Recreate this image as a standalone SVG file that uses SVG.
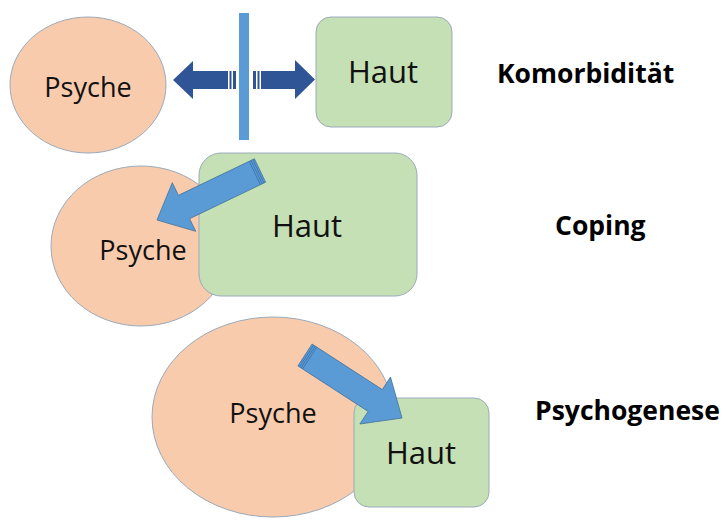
<svg xmlns="http://www.w3.org/2000/svg" width="726" height="520" viewBox="0 0 726 520">
<style>
.psy{fill:#f8cbad;stroke:#9aaabb;stroke-width:1}
.haut{fill:#c5e0b4;stroke:#9aaabb;stroke-width:1}
.t{font-family:"Open Sans","Liberation Sans",sans-serif;fill:#111;text-anchor:middle}
.lbl{font-family:"Open Sans","Liberation Sans",sans-serif;font-weight:bold;font-size:26.5px;fill:#000}
.dark{fill:#2f5597}
.light{fill:#5b9bd5;stroke:#41719c;stroke-width:0.8}
.stripe{stroke:#3f78b0;stroke-width:1}
</style>
<rect width="726" height="520" fill="#fff"/>

<g id="row1-psyche">
<ellipse class="psy" cx="88" cy="85" rx="78" ry="68"/>
<text class="t" x="88" y="97" font-size="27">Psyche</text>
</g>
<g id="row1-haut">
<rect class="haut" x="316" y="17" width="136" height="110" rx="15"/>
<text class="t" x="383" y="83" font-size="31">Haut</text>
</g>
<g id="row1-barrier">
<rect x="239" y="13" width="10" height="127" fill="#5b9bd5"/>
</g>

<g id="row2-psyche">
<ellipse class="psy" cx="141" cy="246" rx="90" ry="80"/>
<text class="t" x="143" y="260" font-size="27">Psyche</text>
</g>
<g id="row2-haut">
<rect class="haut" x="199" y="153" width="218" height="143" rx="22"/>
<text class="t" x="307" y="237" font-size="31">Haut</text>
</g>

<g id="row3-psyche">
<ellipse class="psy" cx="273" cy="417" rx="121" ry="100"/>
<text class="t" x="273" y="423" font-size="27">Psyche</text>
</g>
<g id="row3-haut">
<rect class="haut" x="354" y="398" width="135" height="109" rx="15"/>
<text class="t" x="421" y="464" font-size="31">Haut</text>
</g>

<g id="connectors">
<!-- row 1: left arrow -->
<polygon class="dark" points="173,80 193,61 193,71 228,71 228,89 193,89 193,99"/>
<rect class="dark" x="229.5" y="71" width="2" height="18"/>
<rect class="dark" x="233" y="71" width="3" height="18"/>
<!-- row 1: right arrow -->
<rect class="dark" x="253" y="71" width="3" height="18"/>
<rect class="dark" x="257.5" y="71" width="2" height="18"/>
<polygon class="dark" points="261,71 295,71 295,60 315,79.5 295,99 295,89 261,89"/>
<!-- row 2: Haut to Psyche -->
<polygon class="light" points="265.6,182.2 189.6,218.7 195.7,231.3 157,220 172.3,182.7 178.4,195.3 254.4,158.8"/>
<line class="stripe" x1="252.8" y1="159.6" x2="263.9" y2="183"/>
<line class="stripe" x1="251" y1="160.5" x2="262.2" y2="183.8"/>
<line class="stripe" x1="249.2" y1="161.4" x2="260.4" y2="184.7"/>
<!-- row 3: Psyche to Haut -->
<polygon class="light" points="312.1,344.1 382.3,389.6 390.5,377 402,418 359.9,424 368.1,411.4 297.9,365.9"/>
<line class="stripe" x1="313.6" y1="345.1" x2="299.4" y2="366.9"/>
<line class="stripe" x1="315.2" y1="346.1" x2="301" y2="367.9"/>
<line class="stripe" x1="316.8" y1="347.1" x2="302.6" y2="368.9"/>
</g>

<g id="labels">
<text class="lbl" x="497" y="83">Komorbidität</text>
<text class="lbl" x="555" y="235">Coping</text>
<text class="lbl" x="535" y="420">Psychogenese</text>
</g>
</svg>
